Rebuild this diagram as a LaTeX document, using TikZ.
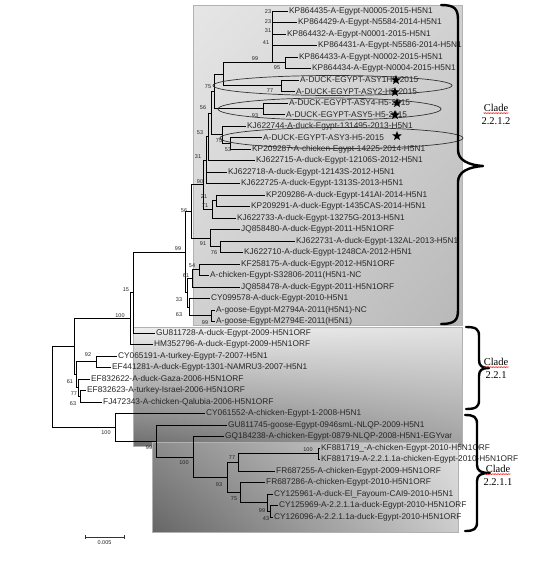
\documentclass[tikz,border=0pt]{standalone}
\usepackage{fontspec}
\setmainfont{Liberation Sans}
\newfontfamily\cladefont{Liberation Serif}
\usetikzlibrary{shapes.geometric,shadings,decorations.pathmorphing}
\definecolor{bAul}{HTML}{E6E6E6}\definecolor{bAur}{HTML}{D2D2D2}
\definecolor{bAll}{HTML}{D0D0D0}\definecolor{bAlr}{HTML}{B8B8B8}
\definecolor{bBul}{HTML}{EEEEEE}\definecolor{bBur}{HTML}{E2E2E2}
\definecolor{bBll}{HTML}{6C6C6C}\definecolor{bBlr}{HTML}{A0A0A0}
\definecolor{bCul}{HTML}{8C8C8C}\definecolor{bCur}{HTML}{E0E0E0}
\definecolor{bCll}{HTML}{666666}\definecolor{bClr}{HTML}{CCCCCC}
\begin{document}
\begin{tikzpicture}[x=1pt,y=-1pt,
  br/.style={line width=0.75pt,black},
  leaf/.style={anchor=west,inner sep=0pt,outer xsep=1.2pt,font=\fontsize{8.3}{9}\selectfont,text=black!85},
  bs/.style={inner sep=0pt,font=\fontsize{5.5}{6}\selectfont,text=black!85},
  ell/.style={line width=0.7pt,black!80},
  starn/.style={star,star points=5,star point ratio=2.4,fill=black,draw=none,inner sep=0pt,minimum size=10pt},
  bracestyle/.style={line width=2.4pt,line cap=round,line join=round},
  cladetxt/.style={inner sep=0pt,font=\cladefont\fontsize{10.5}{11}\selectfont},
  wavy/.style={red,line width=0.4pt,decorate,decoration={zigzag,segment length=1.6pt,amplitude=0.45pt}},
  boxline/.style={draw=gray!60,line width=0.5pt}]
\useasboundingbox (0,0) rectangle (544,568);
\fill[white] (0,0) rectangle (544,568);
% clade boxes
\shade[upper left=bAul,upper right=bAur,lower left=bAll,lower right=bAlr] (193,5) rectangle (462,325);
\draw[boxline] (193,5) rectangle (462,325);
\shade[upper left=bBul,upper right=bBur,lower left=bBll,lower right=bBlr] (133,327) rectangle (462,446);
\draw[boxline] (133,327) rectangle (462,446);
\shade[upper left=bCul,upper right=bCur,lower left=bCll,lower right=bClr] (152,442) rectangle (458,532);
\draw[boxline] (152,442) rectangle (458,532);
% leaves
\foreach \n/\x/\y/\t in {
 1/288/11/{KP864435-A-Egypt-N0005-2015-H5N1},
 2/297/22.5/{KP864429-A-Egypt-N5584-2014-H5N1},
 3/286/34/{KP864432-A-Egypt-N0001-2015-H5N1},
 4/317/45.5/{KP864431-A-Egypt-N5586-2014-H5N1},
 5/298/57/{KP864433-A-Egypt-N0002-2015-H5N1},
 6/311/68.5/{KP864434-A-Egypt-N0004-2015-H5N1},
 7/299/80/{A-DUCK-EGYPT-ASY1H5-2015},
 8/295/91.5/{A-DUCK-EGYPT-ASY2-H5-2015},
 9/288/103/{A-DUCK-EGYPT-ASY4-H5-2015},
 10/285/114.5/{A-DUCK-EGYPT-ASY5-H5-2015},
 11/246/126/{KJ622744-A-duck-Egypt-131495-2013-H5N1},
 12/262/137.5/{A-DUCK-EGYPT-ASY3-H5-2015},
 13/251/149/{KP209287-A-chicken-Egypt-14225-2014-H5N1},
 14/255/160.5/{KJ622715-A-duck-Egypt-12106S-2012-H5N1},
 15/227/172/{KJ622718-A-duck-Egypt-12143S-2012-H5N1},
 16/240/183.5/{KJ622725-A-duck-Egypt-1313S-2013-H5N1},
 17/265/195/{KP209286-A-duck-Egypt-141AI-2014-H5N1},
 18/250/206.5/{KP209291-A-duck-Egypt-1435CAS-2014-H5N1},
 19/236/218/{KJ622733-A-duck-Egypt-13275G-2013-H5N1},
 20/240/229.5/{JQ858480-A-duck-Egypt-2011-H5N1ORF},
 21/295/241/{KJ622731-A-duck-Egypt-132AL-2013-H5N1},
 22/243/252.5/{KJ622710-A-duck-Egypt-1248CA-2012-H5N1},
 23/240/264/{KF258175-A-duck-Egypt-2012-H5N1ORF},
 24/209/275.5/{A-chicken-Egypt-S32806-2011(H5N1-NC},
 25/240/287/{JQ858478-A-duck-Egypt-2011-H5N1ORF},
 26/210/298.5/{CY099578-A-duck-Egypt-2010-H5N1},
 27/215/310/{A-goose-Egypt-M2794A-2011(H5N1)-NC},
 28/215/321.5/{A-goose-Egypt-M2794E-2011(H5N1)},
 29/155/333/{GU811728-A-duck-Egypt-2009-H5N1ORF},
 30/153/344.5/{HM352796-A-duck-Egypt-2009-H5N1ORF},
 31/117/356/{CY065191-A-turkey-Egypt-7-2007-H5N1},
 32/111/367.5/{EF441281-A-duck-Egypt-1301-NAMRU3-2007-H5N1},
 33/90/379/{EF832622-A-duck-Gaza-2006-H5N1ORF},
 34/86/390.5/{EF832623-A-turkey-Israel-2006-H5N1ORF},
 35/102/402/{FJ472343-A-chicken-Qalubia-2006-H5N1ORF},
 36/205/413.5/{CY061552-A-chicken-Egypt-1-2008-H5N1},
 37/227/425/{GU811745-goose-Egypt-0946smL-NLQP-2009-H5N1},
 38/224/436.5/{GQ184238-A-chicken-Egypt-0879-NLQP-2008-H5N1-EGYvar},
 39/320/448/{KF881719\_-A-chicken-Egypt-2010-H5N1ORF},
 40/320/459.5/{KF881719-A-2.2.1.1a-chicken-Egypt-2010-H5N1ORF},
 41/275/471/{FR687255-A-chicken-Egypt-2009-H5N1ORF},
 42/265/482.5/{FR687286-A-chicken-Egypt-2010-H5N1ORF},
 43/273/494/{CY125961-A-duck-El\_Fayoum-CAI9-2010-H5N1},
 44/278/505.5/{CY125969-A-2.2.1.1a-duck-Egypt-2010-H5N1ORF},
 45/273/517/{CY126096-A-2.2.1.1a-duck-Egypt-2010-H5N1ORF}}
 \node[leaf] (l\n) at (\x,\y) {\t};
% internal nodes
\coordinate (G95) at (285,62.75);
\coordinate (G1) at (272,62.75);
\coordinate (N77) at (281,85.75);
\coordinate (H99) at (223,74.25);
\coordinate (N93) at (263,108.75);
\coordinate (H75) at (214,91.5);
\coordinate (N75b) at (230,143.25);
\coordinate (N53b) at (222,134.6);
\coordinate (N56) at (211,113.05);
\coordinate (N53) at (208,136.8);
\coordinate (N21) at (216,200.75);
\coordinate (N71) at (212,209.4);
\coordinate (P31) at (206,160.15);
\coordinate (P90) at (203,184.8);
\coordinate (N76) at (220,246.75);
\coordinate (N91) at (210,238.1);
\coordinate (N56b) at (191,211.45);
\coordinate (N54) at (199,269.75);
\coordinate (N61b) at (192,278.4);
\coordinate (N99x) at (211,315.75);
\coordinate (N63) at (189,307.1);
\coordinate (N33) at (187,292.75);
\coordinate (N99c) at (185,252.1);
\coordinate (N15) at (133,292.55);
\coordinate (N100) at (130,318.5);
\coordinate (G92) at (96,361.75);
\coordinate (N63e) at (80,396.25);
\coordinate (N77e) at (78,387.6);
\coordinate (N61e) at (76,374.7);
\coordinate (A) at (74,346.6);
\coordinate (N100f) at (318,453.75);
\coordinate (N77b) at (238,462.4);
\coordinate (N43) at (270,511.25);
\coordinate (N99g) at (267,502.6);
\coordinate (N75c) at (240,492.6);
\coordinate (N2211) at (227,477.5);
\coordinate (N100e) at (193,457);
\coordinate (N99d) at (156,441);
\coordinate (Nbot) at (115,427.25);
\coordinate (Root) at (52,387);
% branches to leaves
\foreach \p/\c in {G1/l1,G1/l2,G1/l3,G1/l4,G95/l5,G95/l6,N77/l7,N77/l8,N93/l9,N93/l10,
  N53b/l11,N75b/l12,N75b/l13,N53/l14,P31/l15,P31/l16,N21/l17,N21/l18,N71/l19,N91/l20,
  N76/l21,N76/l22,N54/l23,N54/l24,N61b/l25,N63/l26,N99x/l27,N99x/l28,N15/l29,N100/l30,
  G92/l31,G92/l32,N77e/l33,N63e/l34,N63e/l35,Nbot/l36,N99d/l37,N100e/l38,N100f/l39,
  N100f/l40,N77b/l41,N75c/l42,N99g/l43,N43/l44,N43/l45}
  \draw[br] (\p) |- (\c.west);
% branches between internal nodes
\foreach \p/\c in {G1/G95,H99/G1,H99/N77,H75/H99,H75/N93,N53b/N75b,N56/H75,N56/N53b,
  N53/N56,P31/N53,N71/N21,P90/P31,P90/N71,N91/N76,N56b/P90,N56b/N91,N61b/N54,N63/N99x,
  N33/N61b,N33/N63,N99c/N56b,N99c/N33,N15/N99c,N100/N15,N77e/N63e,N61e/G92,N61e/N77e,
  A/N100,A/N61e,Root/A,Root/Nbot,Nbot/N99d,N99d/N100e,N100e/N2211,N2211/N77b,
  N2211/N75c,N77b/N100f,N75c/N99g,N99g/N43}
  \draw[br] (\p) |- (\c);
% bootstrap values
\foreach \t/\x/\y [count=\i] in {23/268/12,23/268/22,31/268/31,41/266/43,99/255/59,
  95/277/68,77/270/91,75/208/87,56/203/108,93/255/116,53/200/133,75/219/141,53/228/150,
  31/198/157,90/200/182,21/204/197,71/205/206,56/184/211,91/203/244,76/214/253,
  99/178/249,54/192/266,61/186/276,33/179/300,63/179/315,99/205/323,15/126/290,
  100/120/316,92/88/355,61/70/382,77/74/394,63/73/404,100/106/433,99/149/448,
  100/308/450,77/232/458,100/184/463,93/219/485,75/234/499,99/262/511,43/266/519}
  \node[bs] (b\i) at (\x,\y) {\t};
% ellipses
\draw[ell] (332.5,85.5) ellipse [x radius=119.5pt,y radius=10pt];
\draw[ell] (329.5,109) ellipse [x radius=111.5pt,y radius=11pt];
\draw[ell] (341.5,138) ellipse [x radius=121.5pt,y radius=10.5pt];
% stars
\node[starn] (s1) at (396,80) {};
\node[starn] (s2) at (395,92) {};
\node[starn] (s3) at (397,103) {};
\node[starn] (s4) at (395,115) {};
\node[starn] (s5) at (397,136) {};
% braces
\draw[bracestyle] (441,5) .. controls (455,5) and (458,9) .. (458,20) -- (458,150)
  .. controls (458,160) and (468,165) .. (483,166) .. controls (468,167) and (458,172) .. (458,182)
  -- (458,310) .. controls (458,320) and (455,324) .. (441,324);
\draw[bracestyle] (466,327) .. controls (476,327) and (479,329) .. (479,336) -- (479,360)
  .. controls (479,366) and (482,368) .. (489,368) .. controls (482,368) and (479,370) .. (479,376)
  -- (479,400) .. controls (479,407) and (476,409) .. (466,409);
\draw[bracestyle] (465,415) .. controls (474,415) and (477,417) .. (477,424) -- (477,465)
  .. controls (477,471) and (481,473) .. (490,473) .. controls (481,473) and (477,475) .. (477,481)
  -- (477,522) .. controls (477,529) and (474,531) .. (465,531);
% clade labels
\node[cladetxt] (c1) at (496,108) {Clade};
\node[cladetxt] (c1n) at (496,121) {2.2.1.2};
\node[cladetxt] (c2) at (496,362) {Clade};
\node[cladetxt] (c2n) at (496,375) {2.2.1};
\node[cladetxt] (c3) at (498,469) {Clade};
\node[cladetxt] (c3n) at (498,482) {2.2.1.1};
\foreach \c in {c1,c2,c3}
  \draw[wavy] ([yshift=-1.2pt]\c.south west) -- ([yshift=-1.2pt]\c.south east);
% scale bar
\coordinate (sb1) at (85,537);
\coordinate (sb2) at (124,537);
\draw[line width=0.8pt,black!80] (sb1) -- (sb2);
\draw[line width=0.8pt,black!80] ([yshift=2pt]sb1) -- ([yshift=-2pt]sb1);
\draw[line width=0.8pt,black!80] ([yshift=2pt]sb2) -- ([yshift=-2pt]sb2);
\node[bs] (sbl) at (104.5,543) {0.005};
\end{tikzpicture}
\end{document}
